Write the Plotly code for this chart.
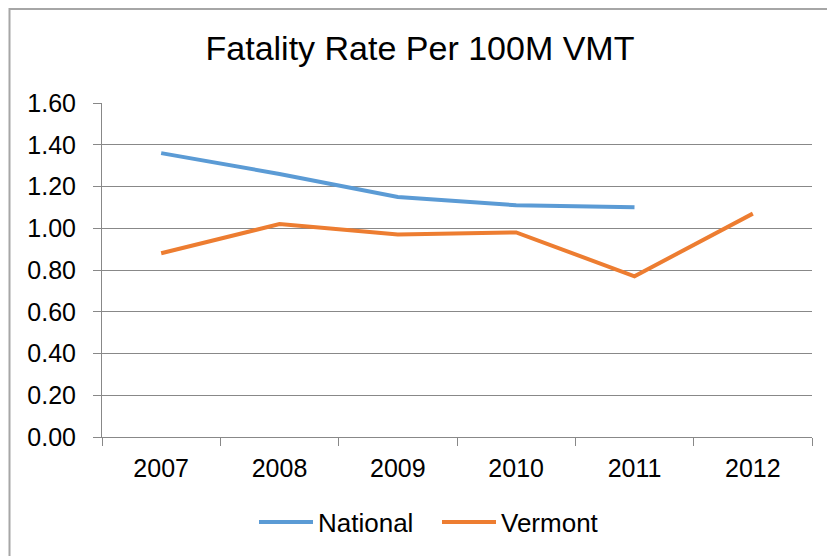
import plotly.graph_objects as go

years = ["2007", "2008", "2009", "2010", "2011", "2012"]
national = [1.36, 1.26, 1.15, 1.11, 1.10, None]
vermont = [0.88, 1.02, 0.97, 0.98, 0.77, 1.07]
y_ticks = [0.0, 0.2, 0.4, 0.6, 0.8, 1.0, 1.2, 1.4, 1.6]

# page is offset by the 8px default body margin; figure coords = page - 8
W, H = 827, 548
L, R, T, B = 94, 804, 95, 429

fig = go.Figure()
fig.add_trace(go.Scatter(x=years, y=national, name="National", mode="lines",
                         line=dict(color="#5B9BD5", width=4)))
fig.add_trace(go.Scatter(x=years, y=vermont, name="Vermont", mode="lines",
                         line=dict(color="#ED7D31", width=4)))

def px2paper_x(px):
    return (px - L) / (R - L)

def px2paper_y(py):
    return (B - py) / (B - T)

fig.add_shape(type="rect", xref="paper", yref="paper",
              x0=px2paper_x(1.5), x1=px2paper_x(840), y0=px2paper_y(560), y1=px2paper_y(1),
              line=dict(color="#A6A6A6", width=2), fillcolor="rgba(0,0,0,0)", layer="below")

fig.update_layout(
    width=W, height=H,
    margin=dict(l=L, r=W - R, t=T, b=H - B, autoexpand=False),
    paper_bgcolor="white", plot_bgcolor="white",
    font=dict(family="Liberation Sans, Arial, sans-serif", color="#000000"),
    title=dict(text="Fatality Rate Per 100M VMT", x=412 / W, xref="container", xanchor="center",
               y=1 - 40 / H, yref="container", yanchor="middle",
               font=dict(size=34, family="Liberation Sans, Arial, sans-serif", color="#000000")),
    showlegend=True,
    legend=dict(orientation="h", xref="container", yref="container",
                x=246 / W, xanchor="left", y=1 - 514 / H, yanchor="middle",
                font=dict(size=26), itemwidth=54, entrywidth=114, entrywidthmode="pixels",
                bgcolor="rgba(0,0,0,0)"),
    xaxis=dict(type="category", tickson="boundaries", ticks="outside", ticklen=8,
               tickcolor="#888888", tickwidth=1, showline=True, linecolor="#888888", linewidth=1,
               showgrid=False, tickfont=dict(size=25), ticklabelstandoff=9,
               range=[-0.5, 5.5], fixedrange=True),
    yaxis=dict(range=[0, 1.6], tickvals=y_ticks, tickformat=".2f", ticks="outside", ticklen=8,
               tickcolor="#888888", showline=True, linecolor="#888888", linewidth=1,
               showgrid=True, gridcolor="#888888", gridwidth=1, zeroline=False,
               tickfont=dict(size=25), ticklabelstandoff=12),
)

fig.write_html("out.html")
